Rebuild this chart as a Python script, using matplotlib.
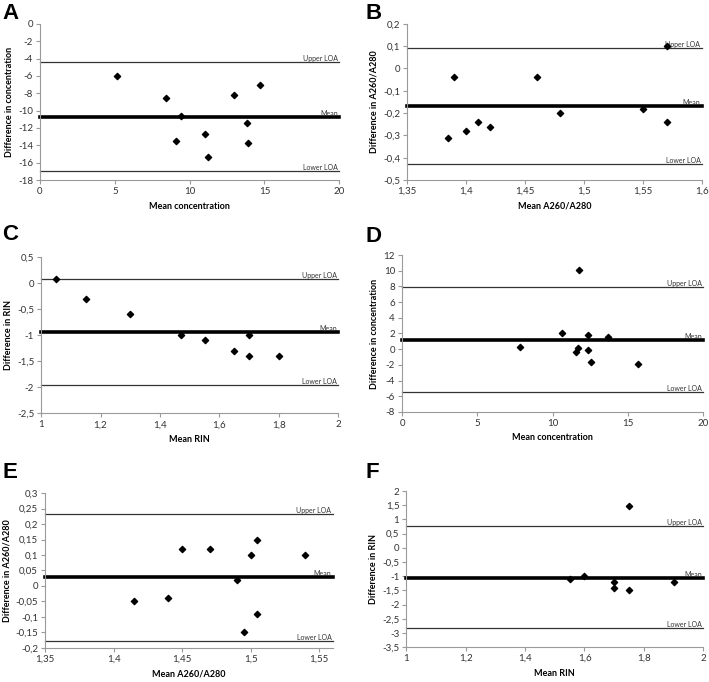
import numpy as np
import matplotlib
matplotlib.use('Agg')
import matplotlib.pyplot as plt
from matplotlib.ticker import FuncFormatter, MultipleLocator

plt.rcParams['font.family'] = ['Lato', 'DejaVu Sans']

# panel A
a_x = [5.15, 8.4, 9.4, 9.07, 11.06, 11.2, 12.96, 14.7, 13.83, 13.9]
a_y = [-6.0, -8.6, -10.6, -13.5, -12.7, -15.4, -8.2, -7.05, -11.4, -13.75]
a_lines = [-4.4, -10.7, -16.9]

# panel B
b_x = [1.385, 1.39, 1.40, 1.41, 1.42, 1.46, 1.48, 1.55, 1.57, 1.57]
b_y = [-0.31, -0.04, -0.28, -0.24, -0.26, -0.04, -0.20, -0.18, -0.24, 0.10]
b_lines = [0.09, -0.167, -0.43]

# panel C
c_x = [1.05, 1.15, 1.30, 1.47, 1.55, 1.65, 1.70, 1.70, 1.80]
c_y = [0.08, -0.3, -0.6, -1.0, -1.1, -1.3, -1.0, -1.4, -1.4]
c_lines = [0.07, -0.93, -1.95]

# panel D
d_x = [7.85, 10.6, 11.73, 11.56, 11.7, 12.37, 12.35, 12.55, 13.7, 15.67]
d_y = [0.3, 2.0, 10.1, -0.4, 0.1, 1.8, -0.1, -1.65, 1.6, -1.95]
d_lines = [7.9, 1.23, -5.45]

# panel E
e_x = [1.415, 1.44, 1.45, 1.47, 1.49, 1.495, 1.50, 1.505, 1.505, 1.54]
e_y = [-0.05, -0.04, 0.12, 0.12, 0.02, -0.15, 0.10, 0.15, -0.09, 0.10]
e_lines = [0.234, 0.028, -0.178]

# panel F
f_x = [1.55, 1.60, 1.70, 1.70, 1.75, 1.75, 1.90]
f_y = [-1.1, -1.0, -1.2, -1.4, 1.47, -1.5, -1.2]
f_lines = [0.76, -1.05, -2.82]

line_names = ['Upper LOA', 'Mean', 'Lower LOA']

panels = [
    ('A', a_x, a_y, a_lines, (0, 20), 5, (-18, 0), 2,
     'Mean concentration', 'Difference in concentration'),
    ('B', b_x, b_y, b_lines, (1.35, 1.6), 0.05, (-0.5, 0.2), 0.1,
     'Mean A260/A280', 'Difference in A260/A280'),
    ('C', c_x, c_y, c_lines, (1, 2), 0.2, (-2.5, 0.5), 0.5,
     'Mean RIN', 'Difference in RIN'),
    ('D', d_x, d_y, d_lines, (0, 20), 5, (-8, 12), 2,
     'Mean concentration', 'Difference in concentration'),
    ('E', e_x, e_y, e_lines, (1.35, 1.56), 0.05, (-0.2, 0.3), 0.05,
     'Mean A260/A280', 'Difference in A260/A280'),
    ('F', f_x, f_y, f_lines, (1, 2), 0.2, (-3.5, 2), 0.5,
     'Mean RIN', 'Difference in RIN'),
]

# axes rectangles in figure fractions
rects = [
    [0.0564, 0.736, 0.422, 0.229],
    [0.574, 0.736, 0.416, 0.229],
    [0.058, 0.394, 0.419, 0.229],
    [0.567, 0.396, 0.425, 0.230],
    [0.0635, 0.050, 0.406, 0.227],
    [0.573, 0.051, 0.419, 0.229],
]
letter_pos = [(0.004, 0.996), (0.515, 0.996), (0.003, 0.672), (0.516, 0.668),
              (0.003, 0.322), (0.516, 0.322)]


def comma(v, pos):
    s = '%g' % round(v, 4)
    if s == '-0':
        s = '0'
    return s.replace('.', ',')


fig = plt.figure(figsize=(7.09, 6.82), dpi=100)

for (letter, xs, ys, lines, xlim, xstep, ylim, ystep, xl, yl), r, lp in zip(panels, rects, letter_pos):
    ax = fig.add_axes(r)
    ax.set_xlim(*xlim)
    ax.set_ylim(*ylim)
    ax.xaxis.set_major_locator(MultipleLocator(xstep))
    ax.yaxis.set_major_locator(MultipleLocator(ystep))
    ax.xaxis.set_major_formatter(FuncFormatter(comma))
    ax.yaxis.set_major_formatter(FuncFormatter(comma))
    for s in ['top', 'right']:
        ax.spines[s].set_visible(False)
    for s in ['left', 'bottom']:
        ax.spines[s].set_color('#9a9a9a')
        ax.spines[s].set_linewidth(0.8)
    ax.tick_params(colors='#9a9a9a', labelcolor='#333333', labelsize=7,
                   length=3, width=0.8, direction='out', pad=2)

    for i, (yv, name) in enumerate(zip(lines, line_names)):
        lw = 2.6 if name == 'Mean' else 0.9
        col = 'black' if name == 'Mean' else '#333333'
        ax.axhline(yv, color=col, lw=lw, clip_on=False)
        ax.text(0.995, yv, name, transform=ax.get_yaxis_transform(),
                ha='right', va='bottom', fontsize=5, color='#333333')

    ax.scatter(xs, ys, marker='D', s=10, color='black', zorder=3, clip_on=False)
    ax.set_xlabel(xl, fontsize=6.5, fontweight='bold', labelpad=4)
    ax.set_ylabel(yl, fontsize=6.5, fontweight='bold', labelpad=3)

    fig.text(lp[0], lp[1], letter, fontsize=16, fontweight='bold',
             family='Liberation Sans', ha='left', va='top')

fig.savefig('out.png', dpi=100)
